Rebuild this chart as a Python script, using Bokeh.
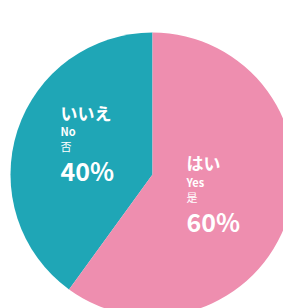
import math
from bokeh.plotting import figure
from bokeh.models import Range1d, ColumnDataSource
from bokeh.core.properties import value
from bokeh.embed import file_html
from bokeh.resources import INLINE

# data
labels_ja = ["いいえ", "はい"]
labels_en = ["No", "Yes"]
labels_zh = ["否", "是"]
shares = [40, 60]
colors = ["#1FA6B6", "#EE8EAF"]

W, H = 283, 308
p = figure(width=W, height=H, output_backend="svg", toolbar_location=None,
           x_range=Range1d(0, W), y_range=Range1d(-H, 0),
           min_border=0, outline_line_color=None)
p.axis.visible = False
p.grid.visible = False
p.background_fill_color = "white"
p.border_fill_color = "white"

cx, cy, r = 152, -174, 142
total = sum(shares)
starts, ends = [], []
a = math.pi / 2
for s in shares:
    starts.append(a)
    a += 2 * math.pi * s / total
    ends.append(a)
src = ColumnDataSource(dict(start=starts, end=ends, color=colors))
p.wedge(x=cx, y=cy, radius=r, start_angle="start", end_angle="end",
        fill_color="color", line_color=None, source=src)

font = value("Noto Sans CJK JP")
# label anchor positions (left x, center y of each line)
lx = [60, 186]
ly = [[112, 130, 145, 169], [162, 181, 196, 220]]
styles = ["bold", "bold", "normal", "bold"]
for i in range(2):
    texts = [labels_ja[i], labels_en[i], labels_zh[i], f"{shares[i]}%"]
    sizes = ["17px", "11px", "11px", "25px"]
    for t, yy, sz, st in zip(texts, ly[i], sizes, styles):
        p.text(x=[lx[i]], y=[-yy], text=[t], text_font=font,
               text_font_size=sz, text_font_style=st, text_color="white",
               text_align="left", text_baseline="middle")

open("out.html", "w").write(file_html(p, INLINE))
